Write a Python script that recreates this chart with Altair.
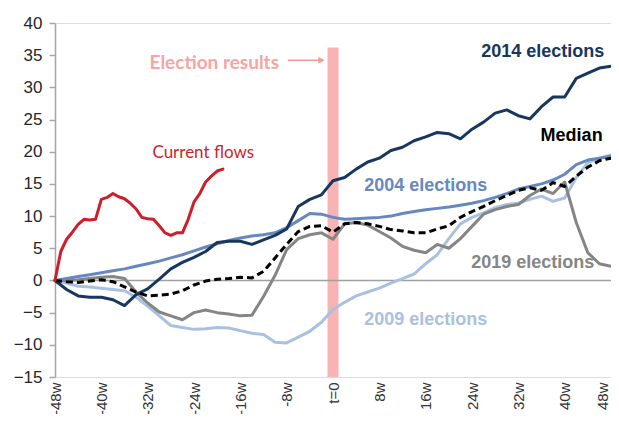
import altair as alt
import pandas as pd

weeks = list(range(-48, 49, 2))

s2014 = [0, -1.4, -2.4, -2.6, -2.6, -3.0, -3.9, -2.2, -1.3, 0.2, 1.8, 2.8, 3.6, 4.5, 5.9, 6.1, 6.1, 5.6,
         6.3, 7.0, 8.0, 11.5, 12.6, 13.3, 15.5, 16.0, 17.3, 18.4, 19.0, 20.2, 20.7, 21.7, 22.3, 23.0,
         22.8, 22.0, 23.5, 24.6, 26.0, 26.5, 25.6, 25.1, 27.0, 28.5, 28.5, 31.4, 32.2, 33.0, 33.3]
s2004 = [0, 0.3, 0.6, 0.9, 1.2, 1.5, 1.8, 2.2, 2.6, 3.0, 3.5, 4.0, 4.6, 5.2, 5.7, 6.2, 6.6, 6.9,
         7.1, 7.4, 8.2, 9.3, 10.4, 10.3, 9.8, 9.5, 9.6, 9.7, 9.8, 10.0, 10.4, 10.7, 11.0, 11.2,
         11.4, 11.7, 12.0, 12.4, 12.9, 13.5, 14.2, 14.6, 15.0, 15.6, 16.5, 18.0, 18.7, 19.0, 19.3]
s2009 = [0, -0.4, -0.9, -1.0, -1.2, -1.4, -1.6, -2.6, -4.0, -5.5, -7.0, -7.3, -7.6, -7.5, -7.3, -7.4,
         -7.8, -8.2, -8.4, -9.6, -9.7, -8.8, -7.9, -6.5, -4.5, -3.4, -2.4, -1.8, -1.2, -0.4, 0.3, 1.0,
         2.6, 4.0, 6.5, 8.8, 9.8, 10.5, 11.3, 11.8, 12.0, 12.6, 13.1, 12.3, 12.8, 16.0, 18.3, 19.0, 19.5]
s2019 = [0, 0.0, 0.1, 0.3, 0.5, 0.6, 0.3, -1.8, -3.5, -4.9, -5.5, -6.1, -5.0, -4.6, -5.0, -5.2,
         -5.5, -5.4, -2.5, 0.8, 4.8, 6.5, 7.1, 7.4, 6.4, 8.8, 9.0, 8.6, 7.6, 6.6, 5.3, 4.7, 4.3, 5.6,
         5.0, 6.5, 8.4, 10.3, 11.0, 11.5, 11.8, 13.2, 14.2, 13.5, 15.3, 9.0, 4.3, 2.6, 2.2]
median = [0, -0.2, -0.3, -0.1, 0.1, -0.2, -1.0, -1.8, -2.4, -2.3, -2.1, -1.6, -0.7, -0.1, 0.2, 0.3,
          0.5, 0.4, 1.4, 3.5, 5.6, 7.6, 8.4, 8.5, 7.5, 8.8, 9.0, 8.8, 8.4, 7.9, 7.7, 7.4, 7.4, 8.0,
          8.5, 9.8, 10.7, 11.5, 12.4, 13.2, 14.0, 14.4, 14.0, 15.2, 14.6, 16.2, 17.6, 18.6, 19.0]

current_weeks = list(range(-48, -18))
current = [0, 4.5, 6.4, 7.5, 8.7, 9.5, 9.4, 9.5, 12.6, 12.9, 13.5, 13.0, 12.7, 12.0, 11.1, 9.8,
           9.6, 9.5, 8.5, 7.4, 7.0, 7.4, 7.4, 9.5, 12.2, 13.5, 15.3, 16.2, 17.0, 17.3]

tick_values = list(range(-48, 49, 8))
y_ticks = list(range(-15, 41, 5))

series = [
    ("2009 elections", weeks, s2009, "#A9C1E0", None),
    ("2019 elections", weeks, s2019, "#858585", None),
    ("2004 elections", weeks, s2004, "#6688BE", None),
    ("2014 elections", weeks, s2014, "#17375E", None),
    ("Median", weeks, median, "#000000", [7, 4]),
    ("Current flows", current_weeks, current, "#CC1F2A", None),
]

labels = pd.DataFrame({
    "text": ["2014 elections", "2004 elections", "2009 elections", "2019 elections", "Median"],
    "x": [36.2, 16.0, 16.0, 34.5, 41.2],
    "y": [35.5, 14.7, -6.1, 2.7, 22.4],
    "color": ["#17375E", "#6688BE", "#A9C1E0", "#858585", "#000000"],
})

xscale = alt.Scale(domain=[-48, 48], nice=False, zero=False)
yscale = alt.Scale(domain=[-15, 40], nice=False, zero=False)

xaxis = alt.Axis(values=tick_values, labelAngle=-90, labelExpr="datum.value == 0 ? 't=0' : datum.value + 'w'",
                 domain=False, ticks=False, grid=False, title=None, labelFont="Liberation Sans",
                 labelFontSize=15, labelColor="#333333", labelPadding=5, labelOverlap=False,
                 labelFlush=False, labelBound=False,
                 labelOffset={"condition": {"test": "datum.value == 48", "value": -9}, "value": 0})
yaxis = alt.Axis(values=y_ticks, grid=False, title=None, domainColor="#A6A6A6", domainWidth=1.5,
                 tickColor="#A6A6A6", tickSize=6, tickWidth=1.5, labelFont="Liberation Sans", labelFontSize=17,
                 labelColor="#262626", labelPadding=7, labelOverlap=False, labelFlush=False, labelBound=False)


def X(field):
    return alt.X(field, scale=xscale, axis=xaxis)


def Y(field):
    return alt.Y(field, scale=yscale, axis=yaxis)


band_df = pd.DataFrame({"x": [-0.95], "x2": [0.95], "y": [-15], "y2": [36.2]})
band = alt.Chart(band_df).mark_rect(color="#F9B3B5").encode(
    x=X("x:Q"), x2="x2:Q", y=Y("y:Q"), y2="y2:Q")

zero_df = pd.DataFrame({"x": [-48], "x2": [48], "y": [0]})
zero = alt.Chart(zero_df).mark_rule(color="#A0A0A0", strokeWidth=1.5).encode(
    x=X("x:Q"), x2="x2:Q", y=Y("y:Q"))

layers = [band, zero]
for name, xs, ys, color, dash in series:
    df = pd.DataFrame({"week": xs, "value": ys})
    kw = dict(color=color, strokeWidth=3, strokeJoin="round", strokeCap="round")
    if dash:
        kw["strokeDash"] = dash
        kw["strokeCap"] = "butt"
    layers.append(alt.Chart(df).mark_line(**kw).encode(x=X("week:Q"), y=Y("value:Q")))

for _, r in labels.iterrows():
    layers.append(alt.Chart(pd.DataFrame([r])).mark_text(
        font="Liberation Sans", fontSize=18, fontWeight="bold", color=r["color"]).encode(
        x=X("x:Q"), y=Y("y:Q"), text="text:N"))

cur_lbl = pd.DataFrame({"text": ["Current flows"], "x": [-22.4], "y": [19.8]})
layers.append(alt.Chart(cur_lbl).mark_text(font="Lato", fontSize=17, color="#CC1F2A").encode(
    x=X("x:Q"), y=Y("y:Q"), text="text:N"))

el_lbl = pd.DataFrame({"text": ["Election results"], "x": [-20.5], "y": [33.8]})
layers.append(alt.Chart(el_lbl).mark_text(font="Lato", fontSize=19, fontWeight="bold", color="#F9A3A3").encode(
    x=X("x:Q"), y=Y("y:Q"), text="text:N"))

arrow_df = pd.DataFrame({"x": [-7.8], "x2": [-2.4], "y": [34.2]})
layers.append(alt.Chart(arrow_df).mark_rule(color="#F79A9A", strokeWidth=1.5).encode(
    x=X("x:Q"), x2="x2:Q", y=Y("y:Q")))
head_df = pd.DataFrame({"x": [-2.0], "y": [34.2]})
layers.append(alt.Chart(head_df).mark_point(shape="triangle-right", filled=True, size=50,
                                             color="#F79A9A", opacity=1).encode(
    x=X("x:Q"), y=Y("y:Q")))

chart = alt.layer(*layers).properties(
    width=556, height=354,
    autosize=alt.AutoSizeParams(type="none"),
    padding={"left": 47, "top": 15, "right": 0, "bottom": 37},
).configure_view(stroke=None).configure(background="white")

chart.save("out.html", embed_options={"renderer": "svg", "actions": False})
